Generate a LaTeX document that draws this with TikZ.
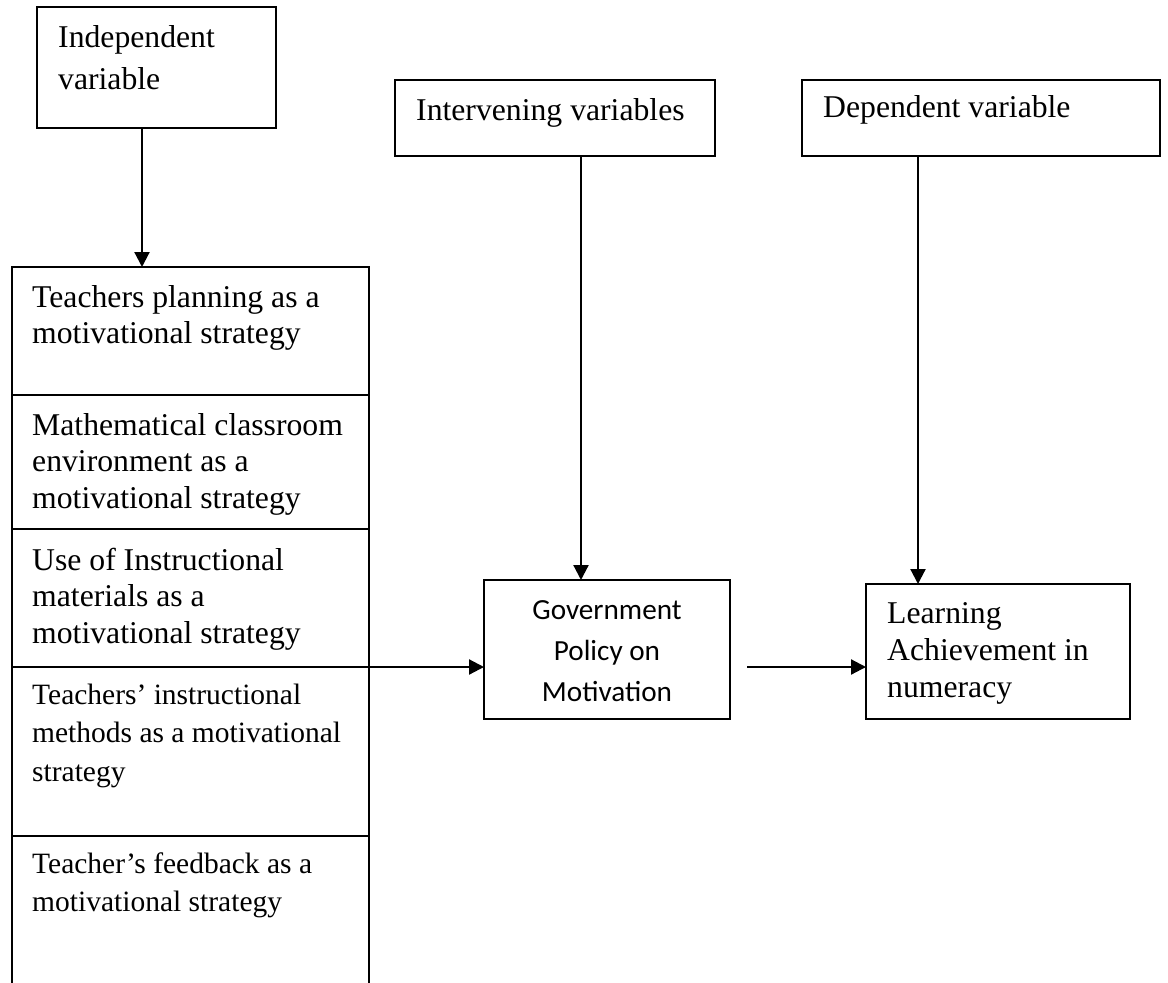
\documentclass[tikz,border=0pt]{standalone}
\usepackage{fontspec}
\setmainfont{Liberation Serif}
\newfontfamily\calib{Carlito}
\usetikzlibrary{arrows.meta}
\tikzset{
  box/.style={draw, line width=2.2pt, inner sep=0pt, outer sep=0pt},
  divider/.style={line width=2.2pt},
  conn/.style={line width=2.2pt, -{Triangle[length=15pt,width=15pt]}},
  lbl/.style={anchor=base west, align=left, inner sep=0pt, font=\fontsize{31.7}{36.5}\selectfont},
  lbls/.style={anchor=base west, align=left, inner sep=0pt, font=\fontsize{29.5}{38.5}\selectfont},
}
\begin{document}
\begin{tikzpicture}[x=1pt,y=-1pt]
\useasboundingbox (0,0) rectangle (1168,983);
\clip (0,0) rectangle (1168,983);
% boxes
\node[box, minimum width=239pt, minimum height=121pt] (indep) at (156.5,67.5) {};
\node[box, minimum width=320pt, minimum height=76pt] (interv) at (555,118) {};
\node[box, minimum width=358pt, minimum height=76pt] (dep) at (981,118) {};
\node[box, minimum width=357pt, minimum height=760pt] (list) at (190.5,647) {};
\node[box, minimum width=246pt, minimum height=139pt] (gov) at (607,649.5) {};
\node[box, minimum width=264pt, minimum height=135pt] (learn) at (998,651.5) {};
% dividers in the list box
\draw[divider] (list.west |- 0,395) -- (list.east |- 0,395);
\draw[divider] (list.west |- 0,529) -- (list.east |- 0,529);
\draw[divider] (list.west |- 0,667) -- (list.east |- 0,667);
\draw[divider] (list.west |- 0,836) -- (list.east |- 0,836);
% texts (anchored at the baseline of their last line)
\node[lbl, font=\fontsize{31.7}{42}\selectfont] (tIndep) at (58,89) {Independent\\variable};
\node[lbl] (tInterv) at (416,120) {Intervening variables};
\node[lbl] (tDep) at (823,117) {Dependent variable};
\node[lbl, font=\fontsize{31.7}{36}\selectfont] (t1) at (32,343) {Teachers planning as a\\motivational strategy};
\node[lbl] (t2) at (32,508) {Mathematical classroom\\environment as a\\motivational strategy};
\node[lbl] (t3) at (32,643) {Use of Instructional\\materials as a\\motivational strategy};
\node[lbls] (t4) at (32,781) {Teachers’ instructional\\methods as a motivational\\strategy};
\node[lbls, font=\fontsize{29.5}{38}\selectfont] (t5) at (32,911) {Teacher’s feedback as a\\motivational strategy};
\node[anchor=base, align=center, inner sep=0pt, font=\calib\fontsize{29.2}{41}\selectfont] (tGov) at (607,701) {Government\\Policy on\\Motivation};
\node[lbl, font=\fontsize{31.7}{37}\selectfont] (tLearn) at (887,697) {Learning\\Achievement in\\numeracy};
% connectors
\coordinate (c1) at (142,0);
\coordinate (c2) at (581,0);
\coordinate (c3) at (918,0);
\coordinate (r) at (0,667);
\coordinate (gs) at (747,667);
\draw[conn] (indep.south -| c1) -- (list.north -| c1);
\draw[conn] (interv.south -| c2) -- (gov.north -| c2);
\draw[conn] (dep.south -| c3) -- (learn.north -| c3);
\draw[conn] (list.east |- r) -- (gov.west |- r);
\draw[conn] (gs) -- (learn.west |- gs);
\end{tikzpicture}
\end{document}
